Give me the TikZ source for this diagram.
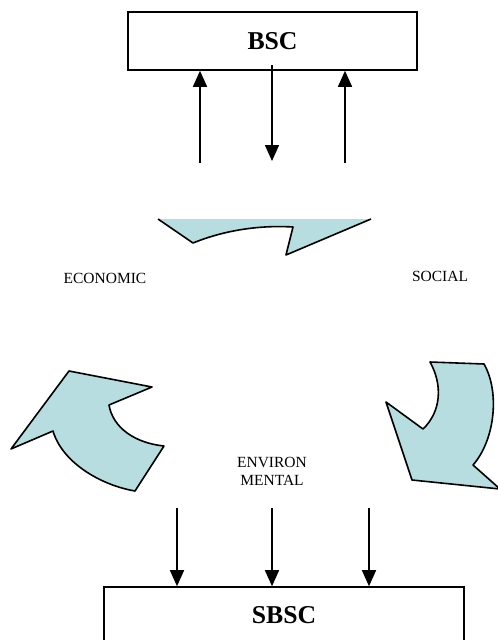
\documentclass[tikz,border=0pt]{standalone}
\usepackage{fontspec}
\setmainfont{Liberation Serif}
\usepackage{tikz}
\usetikzlibrary{arrows.meta}
\definecolor{sheet}{RGB}{183,221,224}

\begin{document}
\begin{tikzpicture}[
    x=1pt, y=-1pt,
    >={Triangle[width=14pt,length=16pt]},
    line width=1.6pt,
    scorebox/.style={
		rectangle,
		draw=black,
		text centered,
		font=\fontsize{25.7}{28}\selectfont\bfseries,
		inner sep=0pt
	},
	area/.style={
		font=\fontsize{15.5}{18}\selectfont,
		align=center,
		inner sep=0pt
	},
	turn/.style={
		fill=sheet,
		line join=round
	}
  ]
  \useasboundingbox (0,0) rectangle (498,640);
  \clip (0,0) rectangle (498,640);

    % We start by placing the blocks
  \node [scorebox, minimum width=289pt, minimum height=58pt] (bsc) at (272.5,41) {BSC};
  \node [scorebox, minimum width=360pt, minimum height=56pt] (sbsc) at (284,615) {SBSC};

  \node [area] (economic) at (105,278) {ECONOMIC};
  \node [area] (social) at (440,276) {SOCIAL};
  \node [area] (environ) at (272,471) {ENVIRON\\MENTAL};

  % free ends of the arrows
  \coordinate (up1) at (200,163);
  \coordinate (dn1) at (272,161);
  \coordinate (up2) at (345,163);
  \coordinate (in1) at (177,508);
  \coordinate (in2) at (272,508);
  \coordinate (in3) at (369,508);

  \draw [->] (up1) -- (up1 |- bsc.south);
  \draw [->] (dn1 |- 0,65) -- (dn1);
  \draw [->] (up2) -- (up2 |- bsc.south);

  \draw [->] (in1) -- (in1 |- sbsc.north);
  \draw [->] (in2) -- (in2 |- sbsc.north);
  \draw [->] (in3) -- (in3 |- sbsc.north);

  % the three curved arrows
  \fill [sheet] (158,219) -- (193,243) .. controls (225,230) and (260,225) .. (293,227)
     -- (286,255) -- (371,219) -- cycle;
  \draw [line join=round] (158,219) -- (193,243) .. controls (225,230) and (260,225) .. (293,227)
     -- (286,255) -- (371,219);

  \draw [turn] (69,371) -- (152,387) -- (109,405)
     .. controls (113,428) and (135,443) .. (164,446)
     -- (135,491)
     .. controls (100,485) and (62,462) .. (53,431)
     -- (11,449) -- cycle;

  \draw [turn] (430,362) -- (484,364)
     .. controls (500,392) and (495,440) .. (473,465)
     -- (500,489) -- (412,480) -- (386,402) -- (423,429)
     .. controls (441,412) and (443,385) .. cycle;

\end{tikzpicture}
\end{document}
